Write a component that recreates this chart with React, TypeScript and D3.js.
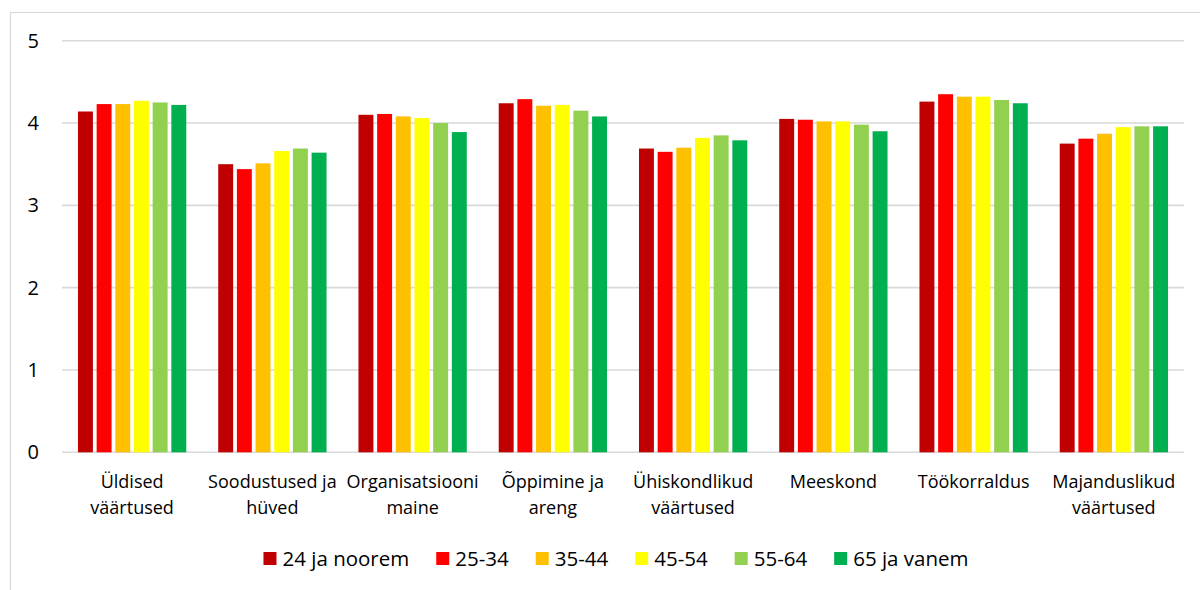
import React, { useEffect, useRef } from "react";
import * as d3 from "d3";

const categories: string[][] = [
  ["Üldised", "väärtused"],
  ["Soodustused ja", "hüved"],
  ["Organisatsiooni", "maine"],
  ["Õppimine ja", "areng"],
  ["Ühiskondlikud", "väärtused"],
  ["Meeskond"],
  ["Töökorraldus"],
  ["Majanduslikud", "väärtused"],
];

const seriesNames = ["24 ja noorem", "25-34", "35-44", "45-54", "55-64", "65 ja vanem"];
const seriesColors = ["#C00000", "#FF0000", "#FFC000", "#FFFF00", "#92D050", "#00B050"];

const s24 = [4.14, 3.5, 4.1, 4.24, 3.69, 4.05, 4.26, 3.75];
const s25 = [4.23, 3.44, 4.11, 4.29, 3.65, 4.04, 4.35, 3.81];
const s35 = [4.23, 3.51, 4.08, 4.21, 3.7, 4.02, 4.32, 3.87];
const s45 = [4.27, 3.66, 4.06, 4.22, 3.82, 4.02, 4.32, 3.95];
const s55 = [4.25, 3.69, 4.0, 4.15, 3.85, 3.98, 4.28, 3.96];
const s65 = [4.22, 3.64, 3.89, 4.08, 3.79, 3.9, 4.24, 3.96];
const seriesValues = [s24, s25, s35, s45, s55, s65];

const yTicks = [0, 1, 2, 3, 4, 5];

const W = 1200;
const H = 590;
const FONT = "'Open Sans', sans-serif";

export default function App() {
  const ref = useRef<SVGSVGElement>(null);

  useEffect(() => {
    const svg = d3.select(ref.current);
    svg.selectAll("*").remove();

    svg
      .append("rect")
      .attr("x", 10.5)
      .attr("y", 12.5)
      .attr("width", W + 20)
      .attr("height", H + 20)
      .attr("fill", "#fff")
      .attr("stroke", "#d9d9d9")
      .attr("stroke-width", 1.2);

    const left = 62;
    const right = 1184;
    const y = d3.scaleLinear().domain([0, 5]).range([452.3, 40.7]);
    const idx = categories.map((_, i) => String(i));
    const x0 = d3.scaleBand<string>().domain(idx).range([left, right]);
    const bw = x0.bandwidth();
    const x1 = d3
      .scaleBand<string>()
      .domain(seriesNames)
      .range([14.1, bw - 14.1])
      .paddingInner(0.2)
      .paddingOuter(0.1);

    // grid
    svg
      .append("g")
      .selectAll("line")
      .data(yTicks)
      .join("line")
      .attr("x1", left)
      .attr("x2", right)
      .attr("y1", (d) => y(d))
      .attr("y2", (d) => y(d))
      .attr("stroke", "#d9d9d9")
      .attr("stroke-width", 1.6);

    // y labels
    svg
      .append("g")
      .selectAll("text")
      .data(yTicks)
      .join("text")
      .attr("x", 39)
      .attr("y", (d) => y(d))
      .attr("dy", "0.35em")
      .attr("text-anchor", "end")
      .attr("font-family", FONT)
      .attr("font-size", 20)
      .attr("fill", "#000")
      .text((d) => String(d));

    // bars
    seriesNames.forEach((name, si) => {
      svg
        .append("g")
        .selectAll("rect")
        .data(seriesValues[si])
        .join("rect")
        .attr("x", (_, i) => (x0(String(i)) as number) + (x1(name) as number))
        .attr("width", x1.bandwidth())
        .attr("y", (d) => y(d))
        .attr("height", (d) => y(0) - y(d))
        .attr("fill", seriesColors[si]);
    });

    // x labels
    const xl = svg.append("g");
    categories.forEach((lines, i) => {
      const cx = (x0(String(i)) as number) + bw / 2;
      const t = xl
        .append("text")
        .attr("x", cx)
        .attr("y", 488)
        .attr("text-anchor", "middle")
        .attr("font-family", FONT)
        .attr("font-size", 18)
        .attr("fill", "#000");
      lines.forEach((ln, li) => {
        t.append("tspan")
          .attr("x", cx)
          .attr("y", 488 + li * 25.5)
          .text(ln);
      });
    });

    // legend
    const lg = svg.append("g");
    const items = seriesNames.map((name, si) => {
      const g = lg.append("g");
      g.append("rect")
        .attr("x", 0)
        .attr("y", -6.5)
        .attr("width", 13)
        .attr("height", 13)
        .attr("fill", seriesColors[si]);
      const t = g
        .append("text")
        .attr("x", 19)
        .attr("y", 0)
        .attr("dy", "0.35em")
        .attr("font-family", FONT)
        .attr("font-size", 20.5)
        .attr("fill", "#000")
        .text(name);
      const tw = (t.node() as SVGTextElement).getComputedTextLength();
      return { g, w: 19 + tw };
    });
    const gap = 27;
    const total = d3.sum(items, (d) => d.w) + gap * (items.length - 1);
    let cx = 616 - total / 2;
    items.forEach((it) => {
      it.g.attr("transform", `translate(${cx},558.5)`);
      cx += it.w + gap;
    });
  }, []);

  return (
    <svg
      ref={ref}
      width={W}
      height={H}
      style={{ position: "absolute", left: 0, top: 0, background: "#fff" }}
    />
  );
}
